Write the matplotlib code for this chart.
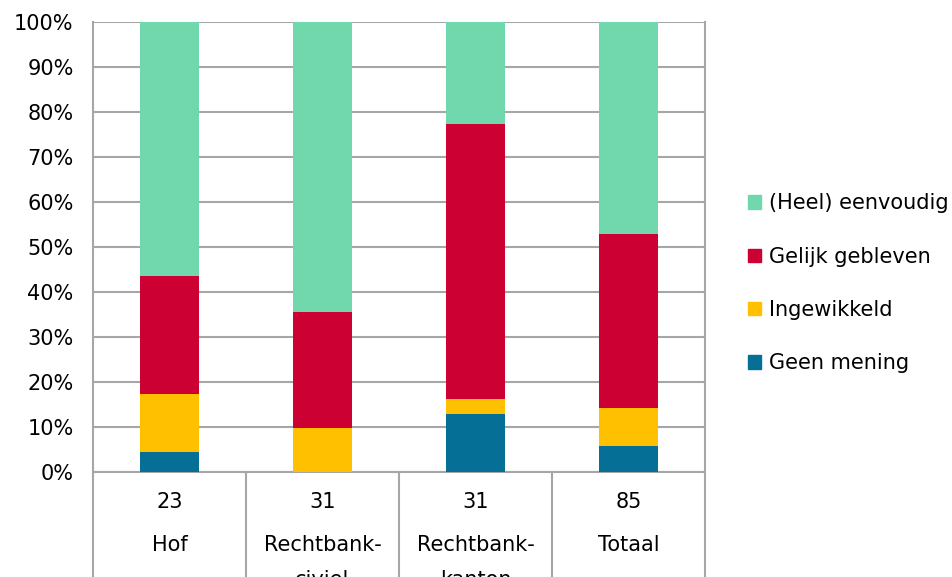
import matplotlib.pyplot as plt
import numpy as np
from matplotlib.patches import Patch

counts = ["23", "31", "31", "85"]
names = ["Hof", "Rechtbank-\nciviel", "Rechtbank-\nkanton", "Totaal"]
series = ["Geen mening", "Ingewikkeld", "Gelijk gebleven", "(Heel) eenvoudig"]
colors = ["#066F96", "#FFC000", "#CC0033", "#70D8AC"]

# percentages per category (Hof, civiel, kanton, Totaal)
geen_mening = [4.35, 0.0, 12.90, 5.88]
ingewikkeld = [13.04, 9.68, 3.23, 8.24]
gelijk = [26.09, 25.81, 61.29, 38.82]
eenvoudig = [56.52, 64.52, 22.58, 47.06]
values = [geen_mening, ingewikkeld, gelijk, eenvoudig]

plt.rcParams['font.family'] = 'DejaVu Sans'
fig = plt.figure(figsize=(9.52, 5.77), dpi=100)
ax = fig.add_axes([0.0977, 0.182, 0.643, 0.780])

x = np.arange(len(counts))
bottom = np.zeros(len(counts))
for vals, col, lab in zip(values, colors, series):
    ax.bar(x, vals, 0.39, bottom=bottom, color=col, label=lab, zorder=3)
    bottom += np.array(vals)

grid = "#A6A6A6"
ax.set_ylim(0, 100)
ax.set_xlim(-0.5, len(counts) - 0.5)
ax.set_yticks(np.arange(0, 101, 10))
ax.set_yticklabels([f"{v}%" for v in range(0, 101, 10)])
ax.yaxis.grid(True, color=grid, linewidth=1.5, zorder=0)
ax.tick_params(axis='y', length=0, pad=14, labelsize=15, labelcolor="#000000")

# long x ticks act as table column separators
ax.set_xticks(np.arange(-0.5, len(counts), 1.0))
ax.set_xticklabels([])
ax.tick_params(axis='x', length=80, width=1.5, color=grid, direction='out')

ax.spines['top'].set_visible(False)
for s in ['left', 'right', 'bottom']:
    ax.spines[s].set_color(grid)
    ax.spines[s].set_linewidth(1.5)

tr = ax.get_xaxis_transform()
for i in range(len(counts)):
    ax.text(x[i], -0.067, counts[i], transform=tr, ha='center', va='center', fontsize=15)
    ax.text(x[i], -0.141, names[i], transform=tr, ha='center', va='top', fontsize=15,
            linespacing=1.9, clip_on=False)

handles = [Patch(color=c, label=l) for c, l in zip(colors, series)][::-1]
fig.legend(handles=handles, loc='center left', bbox_to_anchor=(0.777, 0.509),
           frameon=False, fontsize=15, handlelength=0.6, handleheight=0.6,
           handletextpad=0.4, labelspacing=1.6, borderaxespad=0)

plt.savefig("out.png", dpi=100)
